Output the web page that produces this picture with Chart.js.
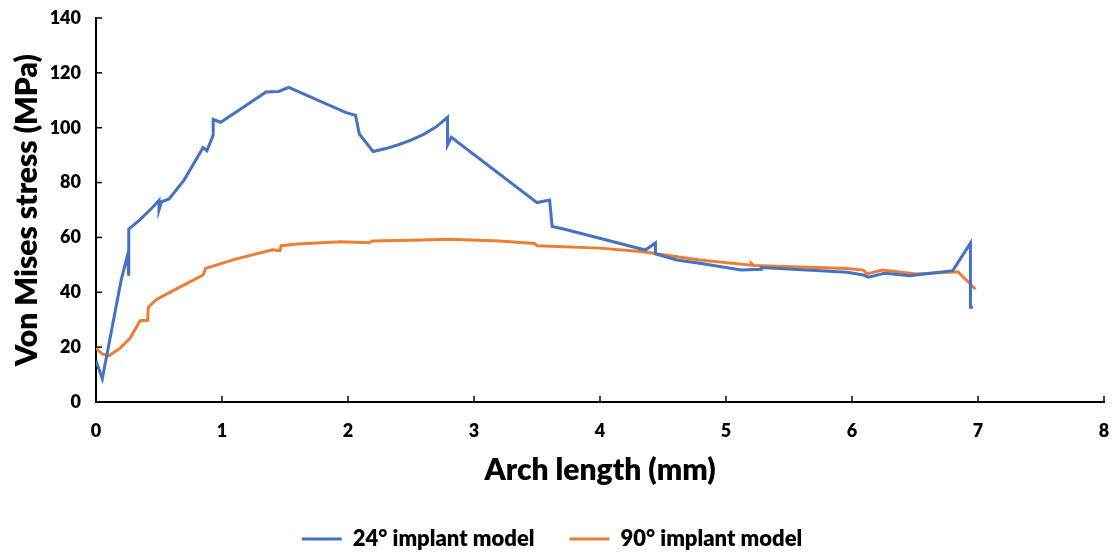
<!DOCTYPE html>
<html>
<head>
<meta charset="utf-8">
<script src="https://cdn.jsdelivr.net/npm/chart.js@4.4.1/dist/chart.umd.min.js"></script>
<style>
    body { margin: 0; background: #fff; }
    #wrap { width: 1117px; height: 553px; }
</style>
</head>
<body>
<div id="wrap"><canvas id="stressChart" width="1117" height="553"></canvas></div>
<script>
// ===== Data =====
const xTickValues = [0, 1, 2, 3, 4, 5, 6, 7, 8];
const yTickValues = [0, 20, 40, 60, 80, 100, 120, 140];

const seriesNames = ['24° implant model', '90° implant model'];

const blueX = [0, 0.05, 0.2, 0.25, 0.26, 0.26, 0.35, 0.45, 0.5, 0.5, 0.52, 0.58, 0.7, 0.85, 0.88, 0.93, 0.93, 0.99,
    1.35, 1.45, 1.53, 1.98, 2.06, 2.09, 2.2, 2.3, 2.4, 2.5, 2.6, 2.7, 2.79, 2.79, 2.82, 3.5, 3.6, 3.62, 3.72,
    4.36, 4.44, 4.44, 4.61, 4.79, 5.12, 5.28, 5.28, 5.96, 6.09, 6.13, 6.26, 6.46, 6.8, 6.94, 6.94, 6.96];
const blueY = [15, 8.5, 44.5, 53.5, 46, 63, 66.5, 71, 73.5, 70, 73, 74, 81, 92.8, 91.6, 97.3, 103, 102,
    113, 113.2, 114.7, 105.6, 104.5, 97.7, 91.3, 92.4, 93.8, 95.5, 97.6, 100.3, 103.8, 93.7, 96.5, 72.7, 73.6, 64, 63,
    55.4, 58, 54, 51.8, 50.6, 48.1, 48.4, 49, 47.3, 46.3, 45.5, 46.9, 46, 47.9, 57.9, 34.5, 34.5];

const orangeX = [0, 0.05, 0.1, 0.19, 0.27, 0.35, 0.41, 0.415, 0.48, 0.65, 0.85, 0.87, 1.1, 1.4, 1.46, 1.47, 1.6,
    1.94, 2.17, 2.19, 2.5, 2.81, 3.2, 3.48, 3.5, 4.0, 4.34, 4.79, 5.2, 5.2, 5.22, 5.96, 6.09, 6.12,
    6.24, 6.51, 6.84, 6.98];
const orangeY = [19.6, 17.5, 16.8, 19.6, 23.2, 29.6, 29.8, 34.5, 37.4, 41.5, 46.3, 48.7, 52, 55.5, 55.2, 57, 57.6,
    58.4, 58.1, 58.7, 59, 59.3, 58.7, 57.8, 57, 56.1, 54.8, 51.8, 49.9, 50.6, 49.8, 48.7, 48.1, 46.7,
    48.1, 46.7, 47.5, 41.1];

function toPoints(xs, ys) {
    return xs.map((x, i) => ({ x: x, y: ys[i] }));
}

const FONT = 'Lato, "Open Sans", sans-serif';

// ===== Inside tick marks =====
const insideTicks = {
    id: 'insideTicks',
    beforeDatasetsDraw(chart) {
        const { ctx, chartArea, scales } = chart;
        ctx.save();
        ctx.strokeStyle = '#000';
        ctx.lineWidth = 1.5;
        xTickValues.forEach(v => {
            const px = scales.x.getPixelForValue(v);
            ctx.beginPath();
            ctx.moveTo(px, chartArea.bottom);
            ctx.lineTo(px, chartArea.bottom - 6);
            ctx.stroke();
        });
        yTickValues.forEach(v => {
            const py = scales.y.getPixelForValue(v);
            ctx.beginPath();
            ctx.moveTo(chartArea.left, py);
            ctx.lineTo(chartArea.left + 6, py);
            ctx.stroke();
        });
        ctx.restore();
    }
};

const ctx = document.getElementById('stressChart').getContext('2d');
new Chart(ctx, {
    type: 'scatter',
    data: {
        datasets: [{
            label: seriesNames[0],
            data: toPoints(blueX, blueY),
            borderColor: '#4472C4',
            backgroundColor: '#4472C4',
            showLine: true,
            borderWidth: 3,
            pointRadius: 0,
            tension: 0
        }, {
            label: seriesNames[1],
            data: toPoints(orangeX, orangeY),
            borderColor: '#ED7D31',
            backgroundColor: '#ED7D31',
            showLine: true,
            borderWidth: 3,
            pointRadius: 0,
            tension: 0
        }]
    },
    options: {
        responsive: false,
        animation: false,
        layout: { padding: { top: 18, right: 13, left: 0, bottom: -7 } },
        plugins: {
            tooltip: { enabled: false },
            legend: {
                position: 'bottom',
                labels: {
                    usePointStyle: true,
                    pointStyle: 'line',
                    pointStyleWidth: 40,
                    boxWidth: 40,
                    boxHeight: 3,
                    padding: 35,
                    color: '#000',
                    font: { family: FONT, size: 22, weight: 800 }
                }
            }
        },
        scales: {
            x: {
                type: 'linear',
                min: 0,
                max: 8,
                afterBuildTicks: scale => { scale.ticks = xTickValues.map(v => ({ value: v })); },
                afterFit: scale => {
                    scale.height = 91;
                    scale.paddingLeft = 0;
                    scale.paddingRight = 0;
                },
                grid: { display: false, drawTicks: false },
                border: { display: true, color: '#000', width: 2 },
                ticks: {
                    padding: 18,
                    color: '#000',
                    font: { family: FONT, size: 18, weight: 800 }
                },
                title: {
                    display: true,
                    text: 'Arch length (mm)',
                    color: '#000',
                    padding: { top: 0, bottom: 5 },
                    font: { family: FONT, size: 30, weight: 800 }
                }
            },
            y: {
                type: 'linear',
                min: 0,
                max: 140,
                afterBuildTicks: scale => { scale.ticks = yTickValues.map(v => ({ value: v })); },
                afterFit: scale => {
                    scale.width = 96;
                    scale.paddingTop = 0;
                    scale.paddingBottom = 0;
                },
                grid: { display: false, drawTicks: false },
                border: { display: true, color: '#000', width: 2 },
                ticks: {
                    padding: 15,
                    color: '#000',
                    font: { family: FONT, size: 18, weight: 800 }
                },
                title: {
                    display: true,
                    text: 'Von Mises stress (MPa)',
                    color: '#000',
                    padding: { top: 9, bottom: 0 },
                    font: { family: FONT, size: 30, weight: 800 }
                }
            }
        }
    },
    plugins: [insideTicks]
});
</script>
</body>
</html>
